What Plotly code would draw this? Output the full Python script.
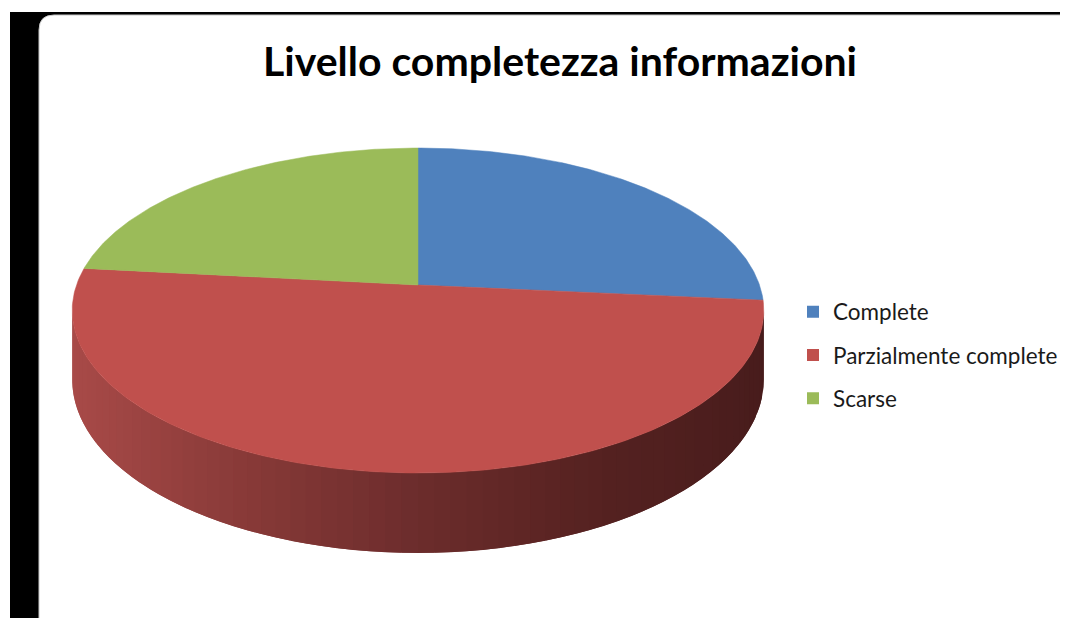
import numpy as np
import plotly.graph_objects as go

# ---- data ----
categories = ["Complete", "Parzialmente complete", "Scarse"]
values = [26.5, 50.2, 23.3]
colors = ["#4F81BD", "#C0504D", "#9BBB59"]
title_text = "Livello completezza informazioni"

# ---- geometry of the 3D-looking pie (pixel space) ----
OFF = 8                    # page body margin
W, H = 1068, 618
cx, cy = 418.0, 285.0      # projected centre of the pie
k = 0.157                  # perspective strength
B = 158.5                  # vertical radius factor
A = 341.5                  # horizontal radius factor
D = 67.4                   # thickness factor


def proj(theta_deg, depth=0.0):
    t = np.radians(theta_deg)
    X = np.sin(t)
    Y = -np.cos(t)
    w = 1.0 - k * Y
    return cx + A * X / w, cy + B * Y / w + depth / w


fig = go.Figure()

# side wall (front part), drawn as overlapping gradient strips
th_r = np.degrees(np.arccos(-k))
th_l = 360.0 - th_r
stops_t = [0.0, 0.25, 0.5, 0.75, 1.0]
stops_c = np.array([[168, 74, 72], [136, 58, 56], [108, 44, 44], [86, 34, 33], [72, 28, 28]], float)
xL, _ = proj(th_l)
xR, _ = proj(th_r)
N = 70
edges = np.linspace(th_l, th_r, N + 1)
for i in range(N):
    th = np.linspace(edges[i], edges[min(i + 2, N)], 10)
    xt, yt = proj(th)
    xb, yb = proj(th[::-1], D)
    xm = proj(0.5 * (edges[i] + edges[i + 1]))[0]
    tt = (xm - xL) / (xR - xL)
    c = [np.interp(tt, stops_t, stops_c[:, j]) for j in range(3)]
    col = "rgb(%d,%d,%d)" % tuple(int(round(v)) for v in c)
    fig.add_trace(go.Scatter(
        x=np.concatenate([xt, xb]), y=np.concatenate([yt, yb]),
        mode="lines", fill="toself", fillcolor=col,
        line=dict(width=0), hoverinfo="skip", showlegend=False))

# top face slices
total = sum(values)
start = 0.0
for name, v, col in zip(categories, values, colors):
    span = v / total * 360.0
    th = np.linspace(start, start + span, 200)
    xs, ys = proj(th)
    fig.add_trace(go.Scatter(
        x=np.concatenate([[cx], xs, [cx]]), y=np.concatenate([[cy], ys, [cy]]),
        mode="lines", fill="toself", fillcolor=col,
        line=dict(color=col, width=0.5), name=name, hoverinfo="name",
        showlegend=False))
    start += span

# legend entries
for i, (name, col) in enumerate(zip(categories, colors)):
    fig.add_trace(go.Scatter(
        x=[None], y=[None], mode="markers", name=name,
        marker=dict(symbol="square", size=12, color=col),
        legendgroup="g%d" % i, showlegend=True))

# frame: black strip + rounded white card
shapes = [
    dict(type="rect", xref="x", yref="y", x0=10, x1=1066, y0=12, y1=640,
         fillcolor="black", line=dict(width=0), layer="below"),
    dict(type="path", xref="x", yref="y",
         path="M 39,640 L 39,30 Q 39,15 54,15 L 1090,15 L 1090,640 Z",
         fillcolor="white", line=dict(color="#c8c8c8", width=1), layer="below"),
]

FW, FH = W - OFF, H - OFF
fig.update_layout(
    width=FW, height=FH, autosize=False,
    margin=dict(l=0, r=0, t=0, b=0),
    paper_bgcolor="white", plot_bgcolor="white",
    xaxis=dict(range=[OFF, W], visible=False, fixedrange=True),
    yaxis=dict(range=[H, OFF], visible=False, fixedrange=True),
    shapes=shapes,
    title=dict(text="<b>%s</b>" % title_text, x=(560 - OFF) / FW, xanchor="center",
               y=1 - (62 - OFF) / FH, yanchor="middle",
               font=dict(family="Lato", size=41, color="black")),
    legend=dict(x=(793 - OFF) / FW, y=1 - (355 - OFF) / FH, xanchor="left", yanchor="middle",
                font=dict(family="Lato", size=22.5, color="#1a1a1a"),
                tracegroupgap=11, bgcolor="rgba(0,0,0,0)", itemwidth=30),
    showlegend=True,
)

fig.write_html("out.html")
